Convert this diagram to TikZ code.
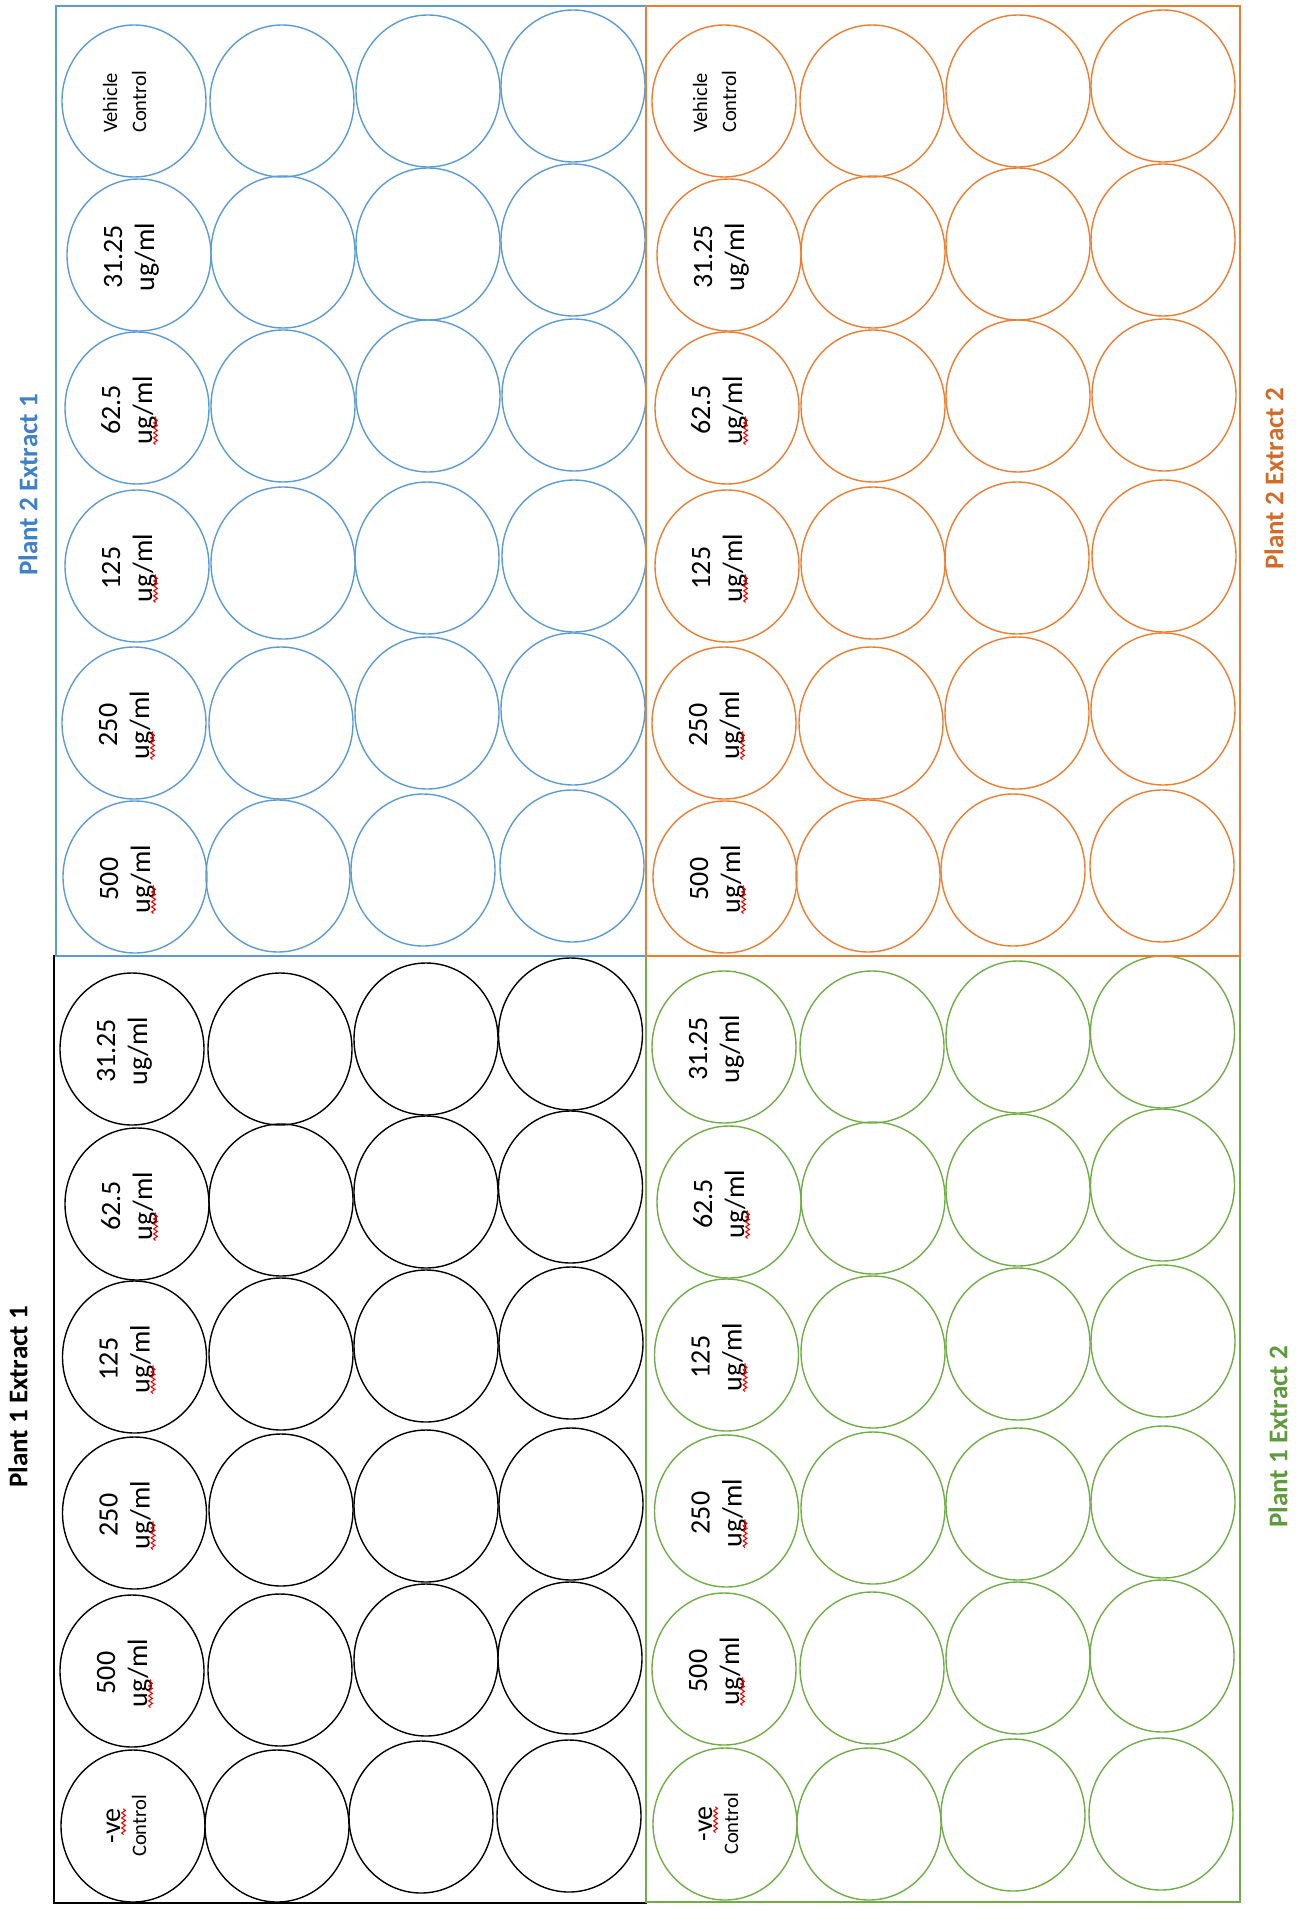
\documentclass[tikz,border=0pt]{standalone}
\usepackage{fontspec}
\setmainfont{Carlito}
\usetikzlibrary{shapes.geometric,decorations.pathmorphing,calc}
\definecolor{pblue}{HTML}{5B9BD5}
\definecolor{porange}{HTML}{ED7D31}
\definecolor{pgreen}{HTML}{70AD47}
\definecolor{tblue}{HTML}{3F80C8}
\definecolor{torange}{HTML}{D26B2A}
\definecolor{tgreen}{HTML}{5E9A3C}
\begin{document}
\begin{tikzpicture}[x=1pt,y=-1pt,
  well/.style={shape=ellipse, draw=#1, line width=1.4pt, minimum width=144pt, minimum height=152pt, inner sep=0pt},
  plate/.style={draw=#1, line width=1.8pt},
  lab/.style={rotate=90, anchor=base, inner sep=0pt, font=\fontsize{28}{34}\selectfont},
  slab/.style={rotate=90, anchor=base, inner sep=0pt, font=\fontsize{20.5}{25}\selectfont},
  ttl/.style={rotate=90, anchor=center, inner sep=0pt, font=\bfseries\fontsize{27}{32}\selectfont},
  squig/.style={draw=red, line width=1.1pt, decorate, decoration={snake, amplitude=1.8pt, segment length=5pt}}]
\useasboundingbox (0,0) rectangle (1295,1910);

% wells, top half (blue = Plant 2 Extract 1, orange = Plant 2 Extract 2)
\foreach \bx/\dx/\dy/\col in {B/0/0/pblue, O/590/0/porange}{
  \foreach \c/\rw/\x/\y in {
    1/1/134/101, 1/2/139/255, 1/3/137/408, 1/4/137/566, 1/5/134/723, 1/6/135/877,
    2/1/282/101, 2/2/283/252, 2/3/283/406, 2/4/283/563, 2/5/281/723, 2/6/278/876,
    3/1/428/91, 3/2/428/244, 3/3/428/396, 3/4/427/558, 3/5/427/713, 3/6/423/870,
    4/1/573/86, 4/2/573/240, 4/3/574/395, 4/4/574/556, 4/5/573/709, 4/6/572/866}
    \node[well=\col] (\bx-\c-\rw) at (\x+\dx,\y+\dy) {};
}
% wells, bottom half (black = Plant 1 Extract 1, green = Plant 1 Extract 2)
\foreach \bx/\dx/\dy/\col in {K/0/0/black, G/592/-2/pgreen}{
  \foreach \c/\rw/\x/\y in {
    1/1/132/1049, 1/2/137/1204, 1/3/134.5/1357, 1/4/134.5/1513, 1/5/132/1671, 1/6/133/1826,
    2/1/280/1049, 2/2/281/1200, 2/3/281/1354, 2/4/281/1510, 2/5/280/1670, 2/6/277/1826,
    3/1/426/1039, 3/2/426/1192, 3/3/426/1346, 3/4/426/1506, 3/5/426/1660, 3/6/421/1817,
    4/1/570.5/1034, 4/2/570.5/1187, 4/3/571/1343, 4/4/571/1504, 4/5/570/1658, 4/6/569/1816}
    \node[well=\col] (\bx-\c-\rw) at (\x+\dx,\y+\dy) {};
}

% plates
\draw[plate=black] (54,956) rectangle (646,1903);
\draw[plate=pgreen] (646,956) rectangle (1240,1902);
\draw[plate=pblue] (56,6) rectangle (646,956);
\draw[plate=porange] (646,6) rectangle (1240,956);

% labels, top half
\foreach \bx in {B,O}{
  \node[slab] (\bx-va) at ($(\bx-1-1.center)+(-17,2)$) {Vehicle};
  \node[slab] (\bx-vb) at ($(\bx-1-1.center)+(12,1)$) {Control};
  \foreach \rw/\txt/\sq in {2/31.25/0, 3/62.5/1, 4/125/1, 5/250/1, 6/500/1}{
    \node[lab] (\bx-ta\rw) at ($(\bx-1-\rw.center)+(-17,2)$) {\txt};
    \node[lab] (\bx-tb\rw) at ($(\bx-1-\rw.center)+(15,2)$) {ug/ml};
    \ifnum\sq=1 \draw[squig] ($(\bx-tb\rw.base west)+(3.5,0)$) -- ++(0,-28); \fi
  }
}
% labels, bottom half
\foreach \bx in {K,G}{
  \foreach \rw/\txt/\sq in {1/31.25/0, 2/62.5/1, 3/125/1, 4/250/1, 5/500/1}{
    \node[lab] (\bx-ta\rw) at ($(\bx-1-\rw.center)+(-17,2)$) {\txt};
    \node[lab] (\bx-tb\rw) at ($(\bx-1-\rw.center)+(15,2)$) {ug/ml};
    \ifnum\sq=1 \draw[squig] ($(\bx-tb\rw.base west)+(3.5,0)$) -- ++(0,-28); \fi
  }
  \node[lab] (\bx-na) at ($(\bx-1-6.center)+(-13,0)$) {-ve};
  \node[slab] (\bx-nb) at ($(\bx-1-6.center)+(13,0)$) {Control};
  \draw[squig] ($(\bx-na.base west)+(3.5,-9)$) -- ($(\bx-na.base east)+(3.5,0)$);
}

% titles
\node[ttl, text=tblue] (t-B) at (28,485) {Plant 2 Extract 1};
\node[ttl, text=torange] (t-O) at (1274,479) {Plant 2 Extract 2};
\node[ttl, text=black] (t-K) at (18,1397) {Plant 1 Extract 1};
\node[ttl, text=tgreen] (t-G) at (1278,1437) {Plant 1 Extract 2};
\end{tikzpicture}
\end{document}
